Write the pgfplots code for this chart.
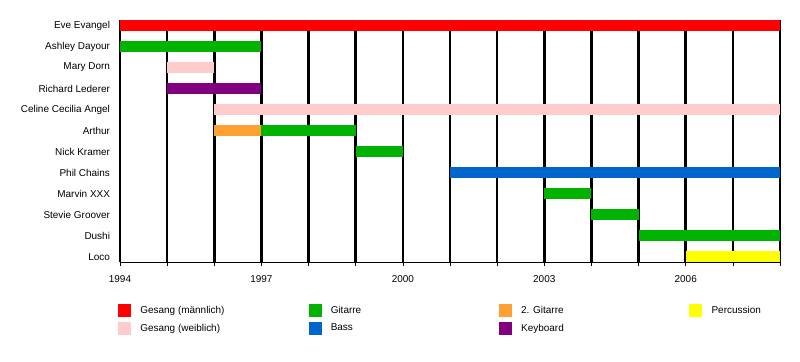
\documentclass[border=0pt]{standalone}
\usepackage{fontspec}
\setmainfont{Liberation Sans}
\usepackage{pgfplots}
\pgfplotsset{compat=1.18}
\definecolor{cred}{RGB}{255,0,0}
\definecolor{cgreen}{RGB}{0,179,0}
\definecolor{corange}{RGB}{255,160,51}
\definecolor{cyellow}{RGB}{255,255,0}
\definecolor{cpink}{RGB}{255,204,204}
\definecolor{cblue}{RGB}{0,102,204}
\definecolor{cpurple}{RGB}{128,0,128}
\begin{document}
\begin{tikzpicture}
\path[use as bounding box] (-120bp,-99.7bp) rectangle (680bp,262.3bp);
\begin{axis}[
  at={(0,0)}, anchor=south west,
  scale only axis, width=660bp, height=242.3bp,
  xmin=1994, xmax=2008, ymin=-0.26, ymax=11.26,
  axis x line*=bottom, axis y line*=left,
  y axis line style={draw=none},
  x axis line style={line width=0.8bp, -},
  xtick={1994,1997,2000,2003,2006},
  minor xtick={1995,1996,1998,1999,2001,2002,2004,2005,2007,2008},
  xmajorgrids, xminorgrids,
  major grid style={black, line width=2.6bp},
  minor grid style={black, line width=2.6bp},
  tick align=outside,
  major tick length=3.5bp, minor tick length=3.5bp,
  xtick style={black, line width=0.6bp},
  ytick={0,...,11},
  yticklabels={Loco,Dushi,Stevie Groover,Marvin XXX,Phil Chains,Nick Kramer,Arthur,Celine Cecilia Angel,Richard Lederer,Mary Dorn,Ashley Dayour,Eve Evangel},
  ytick style={draw=none},
  yticklabel style={font=\fontsize{10}{12}\selectfont, xshift=-3bp},
  xticklabel style={font=\fontsize{10}{12}\selectfont, yshift=-6bp},
  /pgf/number format/assume math mode=true,
  /pgf/number format/1000 sep={},
  legend columns=4,
  legend image code/.code={\fill (0bp,-6bp) rectangle (12bp,6bp);},
  legend style={at={(-0.0026,-0.1725)}, anchor=north west, draw=none, fill=none,
    inner sep=0pt, outer sep=0pt, row sep=5.5bp, column sep=0pt,
    font=\fontsize{10}{12}\selectfont,
    nodes={inner sep=0pt, anchor=west},
    /tikz/every odd column/.append style={column sep=9.7bp}},
  legend cell align=left,
]
% bars
\addplot[cred, line width=11bp, forget plot] coordinates {(1994,11) (2008,11)};
\addplot[cgreen, line width=11bp, forget plot] coordinates {(1994,10) (1997,10)};
\addplot[cpink, line width=11bp, forget plot] coordinates {(1995,9) (1996,9)};
\addplot[cpurple, line width=11bp, forget plot] coordinates {(1995,8) (1997,8)};
\addplot[cpink, line width=11bp, forget plot] coordinates {(1996,7) (2008,7)};
\addplot[corange, line width=11bp, forget plot] coordinates {(1996,6) (1997,6)};
\addplot[cgreen, line width=11bp, forget plot] coordinates {(1997,6) (1999,6)};
\addplot[cgreen, line width=11bp, forget plot] coordinates {(1999,5) (2000,5)};
\addplot[cblue, line width=11bp, forget plot] coordinates {(2001,4) (2008,4)};
\addplot[cgreen, line width=11bp, forget plot] coordinates {(2003,3) (2004,3)};
\addplot[cgreen, line width=11bp, forget plot] coordinates {(2004,2) (2005,2)};
\addplot[cgreen, line width=11bp, forget plot] coordinates {(2005,1) (2008,1)};
\addplot[cyellow, line width=11bp, forget plot] coordinates {(2006,0) (2008,0)};
% legend
\addlegendimage{cred}\addlegendentry{\makebox[168.3bp][l]{Gesang (männlich)}}
\addlegendimage{cgreen}\addlegendentry{\makebox[168.3bp][l]{Gitarre}}
\addlegendimage{corange}\addlegendentry{\makebox[168.3bp][l]{2. Gitarre}}
\addlegendimage{cyellow}\addlegendentry{Percussion}
\addlegendimage{cpink}\addlegendentry{\makebox[168.3bp][l]{Gesang (weiblich)}}
\addlegendimage{cblue}\addlegendentry{\makebox[168.3bp][l]{Bass}}
\addlegendimage{cpurple}\addlegendentry{\makebox[168.3bp][l]{Keyboard}}
\end{axis}
\end{tikzpicture}
\end{document}
